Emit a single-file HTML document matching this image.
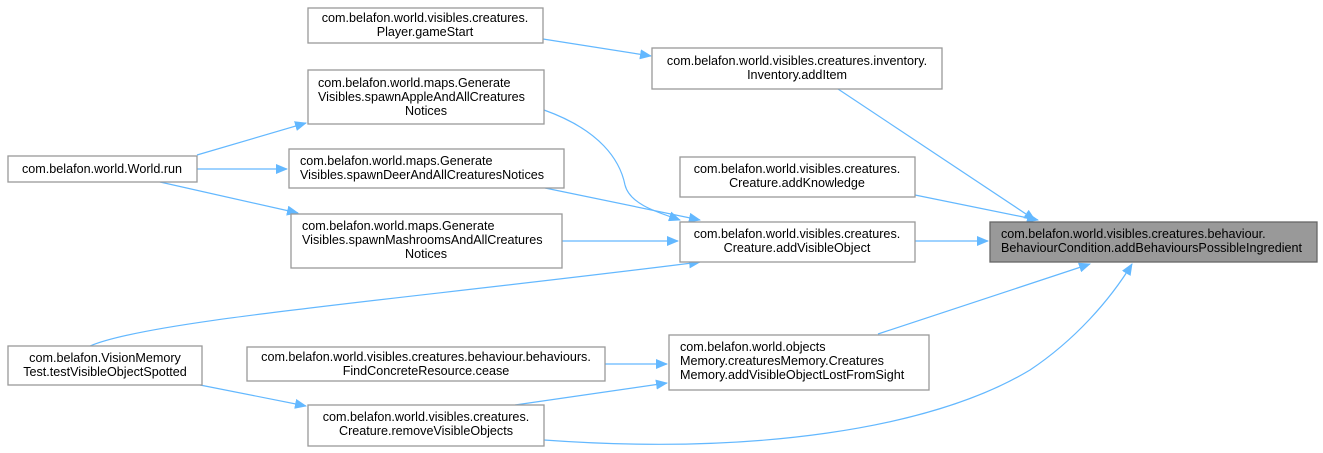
<!DOCTYPE html>
<html><head><meta charset="utf-8"><style>
html,body{margin:0;padding:0;background:#fff;}
svg{display:block;}
text{font-family:"Liberation Sans",Arial,sans-serif;font-size:12.6px;fill:#000;}
.b{fill:#fff;stroke:#999;stroke-width:1.3;}
.e{fill:none;stroke:#63b8ff;stroke-width:1.2;}
</style></head><body>
<svg width="1323" height="453" viewBox="0 0 1323 453" xmlns="http://www.w3.org/2000/svg">
<defs><marker id="m" markerWidth="12" markerHeight="10" refX="11" refY="5" orient="auto" markerUnits="userSpaceOnUse"><path d="M0,0 L12,5 L0,10 z" fill="#63b8ff"/></marker></defs>
<path class="e" marker-end="url(#m)" d="M543,39 L651,56"/>
<path class="e" marker-end="url(#m)" d="M838,89 L1035,220"/>
<path class="e" marker-end="url(#m)" d="M915,195 L1038,220"/>
<path class="e" marker-end="url(#m)" d="M915,241 L988,241"/>
<path class="e" marker-end="url(#m)" d="M878,334 L1090,264"/>
<path class="e" marker-end="url(#m)" d="M544,440 C750,455 930,430 1030,370 C1075,340 1110,300 1132,264"/>
<path class="e" marker-end="url(#m)" d="M197,155 L306,123"/>
<path class="e" marker-end="url(#m)" d="M197,169 L287,169"/>
<path class="e" marker-end="url(#m)" d="M160,182 L298,213"/>
<path class="e" marker-end="url(#m)" d="M544,110 C600,130 620,160 625,185 C630,205 660,213 680,220"/>
<path class="e" marker-end="url(#m)" d="M545,188 L700,220"/>
<path class="e" marker-end="url(#m)" d="M562,241 L678,241"/>
<path class="e" marker-end="url(#m)" d="M90,346 C150,320 400,300 700,262"/>
<path class="e" marker-end="url(#m)" d="M605,364 L667,364"/>
<path class="e" marker-end="url(#m)" d="M515,405 L667,383"/>
<path class="e" marker-end="url(#m)" d="M200,385 L306,406"/>
<rect class="b" x="308" y="8" width="235" height="35"/>
<text x="425" y="22" text-anchor="middle">com.belafon.world.visibles.creatures.</text>
<text x="425" y="36" text-anchor="middle">Player.gameStart</text>
<rect class="b" x="652" y="48" width="290" height="41"/>
<text x="797" y="65" text-anchor="middle">com.belafon.world.visibles.creatures.inventory.</text>
<text x="797" y="79" text-anchor="middle">Inventory.addItem</text>
<rect class="b" x="308" y="70" width="236" height="54"/>
<text x="318" y="87">com.belafon.world.maps.Generate</text>
<text x="318" y="101">Visibles.spawnAppleAndAllCreatures</text>
<text x="426" y="115" text-anchor="middle">Notices</text>
<rect class="b" x="8" y="156" width="189" height="26"/>
<text x="102" y="173" text-anchor="middle">com.belafon.world.World.run</text>
<rect class="b" x="289" y="149" width="275" height="39"/>
<text x="300" y="165">com.belafon.world.maps.Generate</text>
<text x="300" y="179">Visibles.spawnDeerAndAllCreaturesNotices</text>
<rect class="b" x="680" y="157" width="235" height="40"/>
<text x="797" y="173" text-anchor="middle">com.belafon.world.visibles.creatures.</text>
<text x="797" y="187" text-anchor="middle">Creature.addKnowledge</text>
<rect class="b" x="291" y="214" width="271" height="54"/>
<text x="302" y="230">com.belafon.world.maps.Generate</text>
<text x="302" y="244">Visibles.spawnMashroomsAndAllCreatures</text>
<text x="426" y="258" text-anchor="middle">Notices</text>
<rect class="b" x="680" y="222" width="235" height="40"/>
<text x="797" y="238" text-anchor="middle">com.belafon.world.visibles.creatures.</text>
<text x="797" y="252" text-anchor="middle">Creature.addVisibleObject</text>
<rect x="990" y="222" width="327" height="40" fill="#999" stroke="#666" stroke-width="1.3"/>
<text x="1001" y="238">com.belafon.world.visibles.creatures.behaviour.</text>
<text x="1001" y="252">BehaviourCondition.addBehavioursPossibleIngredient</text>
<rect class="b" x="8" y="346" width="194" height="39"/>
<text x="105" y="362" text-anchor="middle">com.belafon.VisionMemory</text>
<text x="105" y="376" text-anchor="middle">Test.testVisibleObjectSpotted</text>
<rect class="b" x="247" y="347" width="358" height="34"/>
<text x="426" y="361" text-anchor="middle">com.belafon.world.visibles.creatures.behaviour.behaviours.</text>
<text x="426" y="375" text-anchor="middle">FindConcreteResource.cease</text>
<rect class="b" x="669" y="335" width="260" height="55"/>
<text x="680" y="351">com.belafon.world.objects</text>
<text x="680" y="365">Memory.creaturesMemory.Creatures</text>
<text x="680" y="379">Memory.addVisibleObjectLostFromSight</text>
<rect class="b" x="308" y="405" width="236" height="41"/>
<text x="426" y="421" text-anchor="middle">com.belafon.world.visibles.creatures.</text>
<text x="426" y="435" text-anchor="middle">Creature.removeVisibleObjects</text>
</svg>
</body></html>
